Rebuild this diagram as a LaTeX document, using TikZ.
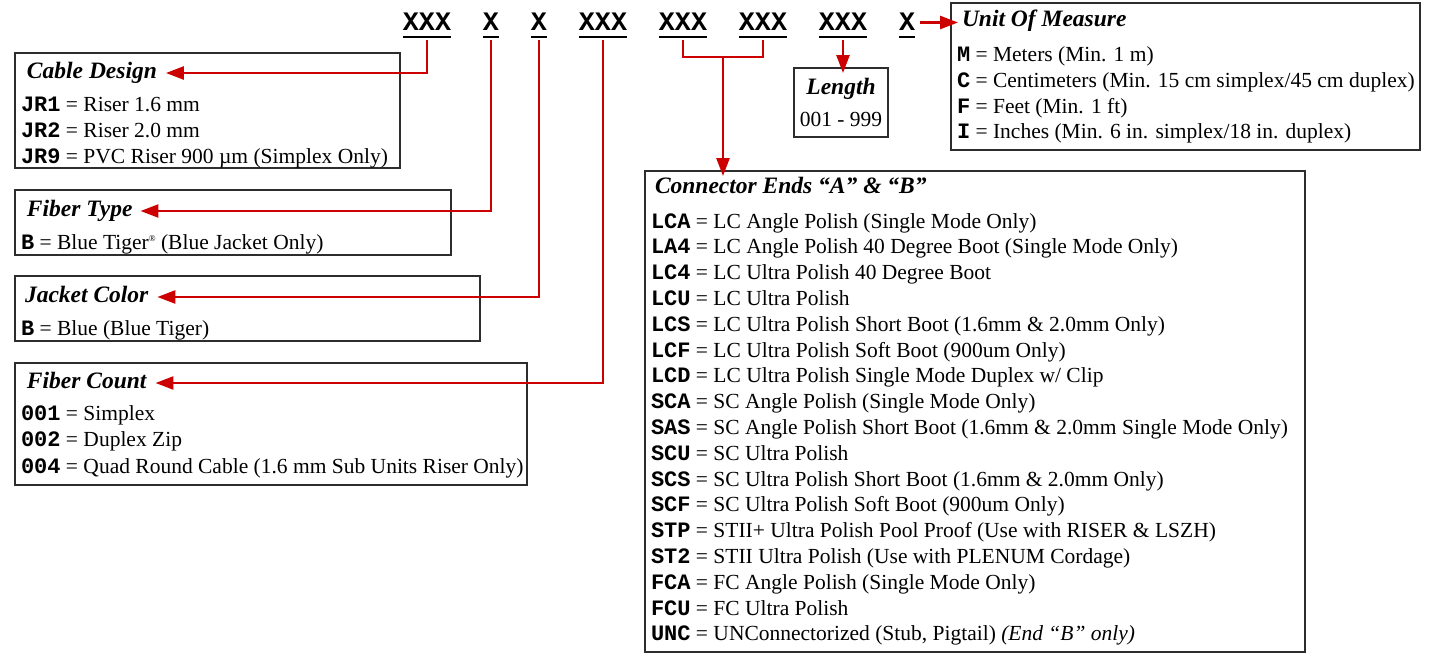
\documentclass[tikz,border=0pt]{standalone}
\usepackage{fontspec}
\setmainfont{Liberation Serif}
\setmonofont{Liberation Mono}
\usetikzlibrary{arrows.meta}
\definecolor{arrred}{RGB}{204,0,0}
\definecolor{boxgray}{RGB}{45,45,45}
\newcommand{\cdf}[1]{{\fontsize{22}{24}\ttfamily\bfseries #1}}
\begin{document}
\begin{tikzpicture}[x=1pt,y=-1pt,
  every node/.style={inner sep=0pt, outer sep=0pt},
  code/.style={font=\fontsize{26.7}{28}\ttfamily\bfseries, anchor=base, text height=15pt, text depth=0pt, inner ysep=10pt},
  ul/.style={line width=2.6pt},
  box/.style={draw=boxgray, line width=1.1pt, anchor=north west},
  ttl/.style={font=\fontsize{23.5}{26}\selectfont\bfseries\itshape, anchor=west, text height=15pt, text depth=5pt},
  row/.style={font=\fontsize{21.5}{24}\selectfont, anchor=base west},
  rline/.style={draw=arrred, line width=2.5pt},
  rarrow/.style={rline, -{Triangle[length=18pt,width=13pt]}},
]
\useasboundingbox (0,0) rectangle (1432,653);

% header codes
\node[code] (c1) at (427,30) {XXX};
\node[code] (c2) at (491,30) {X};
\node[code] (c3) at (539,30) {X};
\node[code] (c4) at (603,30) {XXX};
\node[code] (c5) at (683,30) {XXX};
\node[code] (c6) at (763,30) {XXX};
\node[code] (c7) at (843,30) {XXX};
\node[code] (c8) at (907,30) {X};
\foreach \n in {c1,c2,c3,c4,c5,c6,c7,c8}{
  \draw[ul] ([yshift=-7pt]\n.base west) -- ([yshift=-7pt]\n.base east);
}

% Cable Design
\node[box, minimum width=385pt, minimum height=115pt] (cdbox) at (15,53) {};
\node[ttl] (cdttl) at (27,73) {Cable Design};
\node[row] (cd1) at (21,111) {\cdf{JR1} = Riser 1.6 mm};
\node[row] (cd2) at (21,137) {\cdf{JR2} = Riser 2.0 mm};
\node[row] (cd3) at (21,163) {\cdf{JR9} = PVC Riser 900 µm (Simplex Only)};

% Fiber Type
\node[box, minimum width=436pt, minimum height=65pt] (ftbox) at (15,190) {};
\node[ttl] (ftttl) at (27,211) {Fiber Type};
\node[row] (ft1) at (21,249) {\cdf{B} = Blue Tiger\raisebox{0.75ex}{\fontsize{9}{9}\selectfont ®} (Blue Jacket Only)};

% Jacket Color
\node[box, minimum width=465pt, minimum height=65pt] (jcbox) at (15,276) {};
\node[ttl] (jcttl) at (25,297) {Jacket Color};
\node[row] (jc1) at (21,335) {\cdf{B} = Blue (Blue Tiger)};

% Fiber Count
\node[box, minimum width=512pt, minimum height=122pt] (fcbox) at (15,363) {};
\node[ttl] (fcttl) at (27,383) {Fiber Count};
\node[row] (fc1) at (21,420) {\cdf{001} = Simplex};
\node[row] (fc2) at (21,446) {\cdf{002} = Duplex Zip};
\node[row] (fc3) at (21,473) {\cdf{004} = Quad Round Cable (1.6 mm Sub Units Riser Only)};

% Length
\node[box, minimum width=94pt, minimum height=69pt] (lnbox) at (794,68) {};
\node[ttl, anchor=center] (lnttl) at (841,89) {Length};
\node[row, anchor=base] (ln1) at (841,126) {001 - 999};

% Unit of Measure
\node[box, minimum width=469pt, minimum height=147pt] (umbox) at (951,3) {};
\node[ttl] (umttl) at (962,22) {Unit Of Measure};
\node[row] (um1) at (957,61) {\cdf{M} = Meters (Min. 1 m)};
\node[row] (um2) at (957,87) {\cdf{C} = Centimeters (Min. 15 cm simplex/45 cm duplex)};
\node[row] (um3) at (957,113) {\cdf{F} = Feet (Min. 1 ft)};
\node[row] (um4) at (957,138) {\cdf{I} = Inches (Min. 6 in. simplex/18 in. duplex)};

% Connector Ends
\node[box, minimum width=660pt, minimum height=481pt] (cebox) at (645,171) {};
\node[ttl] (cettl) at (655,188) {Connector Ends “A” \& “B”};
\foreach \k/\t [count=\i from 0] in {
  LCA/{LC Angle Polish (Single Mode Only)},
  LA4/{LC Angle Polish 40 Degree Boot (Single Mode Only)},
  LC4/{LC Ultra Polish 40 Degree Boot},
  LCU/{LC Ultra Polish},
  LCS/{LC Ultra Polish Short Boot (1.6mm \& 2.0mm Only)},
  LCF/{LC Ultra Polish Soft Boot (900um Only)},
  LCD/{LC Ultra Polish Single Mode Duplex w/ Clip},
  SCA/{SC Angle Polish (Single Mode Only)},
  SAS/{SC Angle Polish Short Boot (1.6mm \& 2.0mm Single Mode Only)},
  SCU/{SC Ultra Polish},
  SCS/{SC Ultra Polish Short Boot (1.6mm \& 2.0mm Only)},
  SCF/{SC Ultra Polish Soft Boot (900um Only)},
  STP/{STII+ Ultra Polish Pool Proof (Use with RISER \& LSZH)},
  ST2/{STII Ultra Polish (Use with PLENUM Cordage)},
  FCA/{FC Angle Polish (Single Mode Only)},
  FCU/{FC Ultra Polish},
  UNC/{UNConnectorized (Stub, Pigtail) \textit{(End “B” only)}}
}{
  \node[row] (ce\i) at (651,{228+25.8*\i}) {\cdf{\k} = \t};
}

% connectors
\draw[rarrow] (c1.south) |- ([xshift=9pt]cdttl.east);
\draw[rarrow] (c2.south) |- ([xshift=8pt]ftttl.east);
\draw[rarrow] (c3.south) |- ([xshift=9pt]jcttl.east);
\draw[rarrow] (c4.south) |- ([xshift=9pt]fcttl.east);
\coordinate (jn) at (723,57);
\draw[rline] (c5.south) |- (jn) -| (c6.south);
\draw[rarrow] (jn) -- ([yshift=-5pt]jn |- cebox.north);
\draw[rarrow] (c7.south) -- ([yshift=-5pt]c7.south |- lnbox.north);
\draw[rarrow] ([xshift=5pt]c8.east) -- ([xshift=-4pt]c8.east -| umttl.west);
\end{tikzpicture}
\end{document}
